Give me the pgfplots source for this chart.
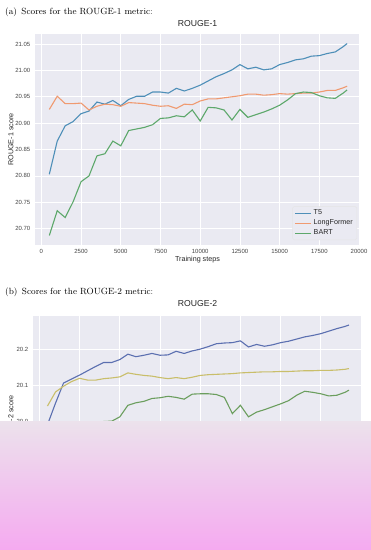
\documentclass[border=0pt]{standalone}
\usepackage{pgfplots}
\pgfplotsset{compat=1.18}
\usepackage{fontspec}
\usetikzlibrary{shadings}
\newfontfamily\sans{Liberation Sans}
\definecolor{bgc}{HTML}{EAEAF2}
\definecolor{cA}{HTML}{4E8FB8}
\definecolor{cB}{HTML}{F09A70}
\definecolor{cC}{HTML}{5DA86B}
\definecolor{dA}{HTML}{5B6FB0}
\definecolor{dB}{HTML}{C9BE6A}
\definecolor{dC}{HTML}{6B9E5E}
\definecolor{tk}{HTML}{444444}

\pgfplotstableread{
s t5 lf bart
500 20.803 20.926 20.687
1000 20.866 20.951 20.734
1500 20.895 20.937 20.721
2000 20.903 20.937 20.751
2500 20.918 20.938 20.789
3000 20.923 20.925 20.800
3500 20.940 20.932 20.838
4000 20.936 20.936 20.842
4500 20.943 20.935 20.866
5000 20.933 20.932 20.857
5500 20.945 20.939 20.886
6000 20.951 20.938 20.889
6500 20.951 20.937 20.892
7000 20.959 20.934 20.897
7500 20.959 20.932 20.909
8000 20.957 20.933 20.910
8500 20.966 20.928 20.914
9000 20.961 20.936 20.912
9500 20.966 20.935 20.925
10000 20.972 20.942 20.904
10500 20.980 20.946 20.930
11000 20.988 20.946 20.929
11500 20.994 20.948 20.925
12000 21.001 20.950 20.906
12500 21.011 20.952 20.926
13000 21.003 20.955 20.911
13500 21.006 20.955 20.916
14000 21.001 20.953 20.921
14500 21.003 20.954 20.927
15000 21.011 20.956 20.934
15500 21.015 20.955 20.944
16000 21.020 20.956 20.956
16500 21.022 20.957 20.959
17000 21.027 20.957 20.958
17500 21.028 20.959 20.952
18000 21.032 20.962 20.948
18500 21.035 20.962 20.947
19000 21.045 20.967 20.957
19250 21.051 20.970 20.963
}\rougeone

\pgfplotstableread{
s t5 lf bart
500 19.990 20.042 19.750
1000 20.050 20.081 19.820
1500 20.106 20.097 19.850
2000 20.117 20.110 19.900
2500 20.128 20.119 19.930
3000 20.140 20.114 19.960
3500 20.152 20.114 19.980
4000 20.163 20.118 19.999
4500 20.163 20.120 20.000
5000 20.171 20.123 20.012
5500 20.186 20.134 20.044
6000 20.179 20.130 20.051
6500 20.183 20.127 20.055
7000 20.188 20.125 20.063
7500 20.183 20.121 20.065
8000 20.184 20.118 20.069
8500 20.194 20.121 20.066
9000 20.188 20.118 20.061
9500 20.195 20.122 20.075
10000 20.200 20.127 20.076
10500 20.207 20.129 20.076
11000 20.215 20.130 20.074
11500 20.217 20.131 20.066
12000 20.218 20.132 20.021
12500 20.223 20.134 20.044
13000 20.206 20.135 20.012
13500 20.213 20.136 20.025
14000 20.208 20.137 20.032
14500 20.212 20.137 20.040
15000 20.218 20.138 20.048
15500 20.222 20.138 20.057
16000 20.228 20.139 20.072
16500 20.234 20.140 20.083
17000 20.238 20.140 20.080
17500 20.243 20.141 20.076
18000 20.250 20.141 20.070
18500 20.257 20.142 20.072
19000 20.263 20.144 20.080
19250 20.267 20.146 20.086
}\rougetwo

\pgfplotsset{
  sbstyle/.style={
    scale only axis,
    axis background/.style={fill=bgc},
    axis line style={draw=none},
    major tick length=0pt,
    grid=major,
    grid style={white, line width=0.8bp},
    xmin=-400, xmax=20060,
    xtick={0,2500,5000,7500,10000,12500,15000,17500,20000},
    scaled x ticks=false,
    xticklabel style={/pgf/number format/1000 sep={}, anchor=base, yshift=-8bp},
    /pgf/number format/assume math mode=true,
    tick label style={font=\sans\fontsize{6}{7}\selectfont, text=tk},
    yticklabel style={anchor=east, inner sep=0pt, xshift=-4.5bp},
    title style={font=\sans\fontsize{8.7}{9}\selectfont, text=black!85, at={(0.5,1)}, anchor=base},
    label style={font=\sans\fontsize{7.2}{8}\selectfont, text=black!85},
    xlabel style={at={(axis description cs:0.5,0)}, anchor=base, yshift=-16bp},
    legend style={font=\sans\fontsize{7.2}{8}\selectfont, text=black!85,
      at={(1,0)}, anchor=south east, xshift=-3bp, yshift=5bp,
      fill=bgc, draw=white!80!gray, rounded corners=1.5bp,
      inner xsep=2bp, inner ysep=1.5bp, row sep=-0.5bp},
    legend cell align=left,
    legend image code/.code={\draw[#1, line width=1.1bp] (0bp,0bp) -- (16bp,0bp);},
    every axis plot/.append style={line width=1.1bp, mark=none},
  }
}

\begin{document}
\begin{tikzpicture}
\path[use as bounding box] (0bp,0bp) rectangle (371bp,-550bp);
\node[anchor=base west, inner sep=0pt, font=\fontsize{9}{10}\selectfont] at (5bp,-14bp) {(a)\enspace Scores for the ROUGE-1 metric:};

\begin{axis}[sbstyle,
  at={(35bp,-245bp)}, anchor=south west,
  width=325bp, height=211bp,
  ymin=20.669, ymax=21.069,
  ytick={20.70,20.75,20.80,20.85,20.90,20.95,21.00,21.05},
  yticklabel style={/pgf/number format/.cd, fixed, fixed zerofill, precision=2},
  title={ROUGE-1}, title style={yshift=2bp},
  xlabel={Training steps}, ylabel={ROUGE-1 score},
  ylabel style={at={(axis description cs:0,0.5)}, anchor=center, yshift=24bp},
]
\addplot[cA] table[x=s, y=t5] {\rougeone};
\addlegendentry{T5}
\addplot[cB] table[x=s, y=lf] {\rougeone};
\addlegendentry{LongFormer}
\addplot[cC] table[x=s, y=bart] {\rougeone};
\addlegendentry{BART}
\end{axis}

\node[anchor=base west, inner sep=0pt, font=\fontsize{9}{10}\selectfont] at (5bp,-294bp) {(b)\enspace Scores for the ROUGE-2 metric:};

\begin{axis}[sbstyle,
  at={(33bp,-527bp)}, anchor=south west,
  width=329bp, height=211bp,
  ymin=19.706, ymax=20.292,
  ytick={19.8,19.9,20.0,20.1,20.2},
  yticklabel style={/pgf/number format/.cd, fixed, fixed zerofill, precision=1},
  title={ROUGE-2}, title style={yshift=4bp},
  xlabel={Training steps}, ylabel={ROUGE-2 score},
  ylabel style={at={(axis description cs:0,0.5)}, anchor=center, yshift=22bp},
]
\addplot[dA] table[x=s, y=t5] {\rougetwo};
\addlegendentry{T5}
\addplot[dB] table[x=s, y=lf] {\rougetwo};
\addlegendentry{LongFormer}
\addplot[dC] table[x=s, y=bart] {\rougetwo};
\addlegendentry{BART}
\end{axis}

\fill[top color={rgb,255:red,236;green,226;blue,236}, middle color={rgb,255:red,250;green,214;blue,246}, bottom color={rgb,255:red,245;green,170;blue,240}] (0bp,-421bp) rectangle (371bp,-550bp);
\end{tikzpicture}
\end{document}
